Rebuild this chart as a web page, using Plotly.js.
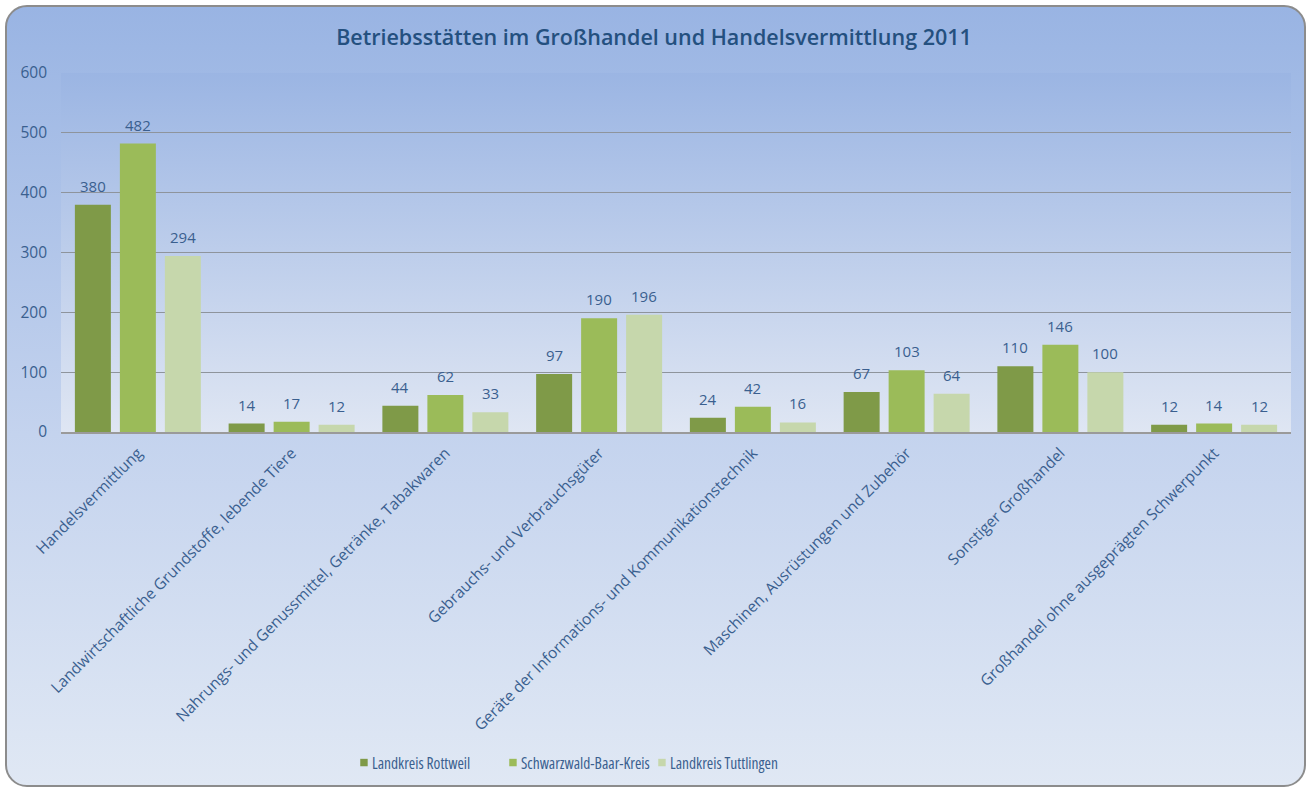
<!DOCTYPE html>
<html>
<head>
<meta charset="utf-8">
<script src="https://cdn.plot.ly/plotly-3.0.1.min.js"></script>
<style>
  html, body { margin: 0; padding: 0; background: #ffffff; width: 1308px; height: 789px; overflow: hidden; }
  #box { position: absolute; left: 5px; top: 5px; width: 1297px; height: 778px;
         border: 2px solid #8c8c8c; border-radius: 22px;
         background: linear-gradient(to bottom, #99b4e3 0px, #c4d3ee 427px, #e0e8f4 778px); }
  #chart { position: absolute; left: 0; top: 0; width: 1308px; height: 789px; }
  .legendtext { font-stretch: 75% !important; }
  #chart .legendpoints path { transform: translate(32px, 0px) scale(0.62) !important; }
</style>
</head>
<body>
<div id="box"></div>
<div id="chart"></div>
<script>
const categories = [
  "Handelsvermittlung",
  "Landwirtschaftliche Grundstoffe, lebende Tiere",
  "Nahrungs- und Genussmittel, Getränke, Tabakwaren",
  "Gebrauchs- und Verbrauchsgüter",
  "Geräte der Informations- und Kommunikationstechnik",
  "Maschinen, Ausrüstungen und Zubehör",
  "Sonstiger Großhandel",
  "Großhandel ohne ausgeprägten Schwerpunkt"
];
const seriesNames = ["Landkreis Rottweil", "Schwarzwald-Baar-Kreis", "Landkreis Tuttlingen"];
const rottweil = [380, 14, 44, 97, 24, 67, 110, 12];
const schwarzwald = [482, 17, 62, 190, 42, 103, 146, 14];
const tuttlingen = [294, 12, 33, 196, 16, 64, 100, 12];
const yTicks = [0, 100, 200, 300, 400, 500, 600];

const colors = ["#7f9a48", "#9bbb59", "#c6d7ac"];
const textColor = "#3a5f8f";
const fontFam = "'Open Sans', 'DejaVu Sans', sans-serif";
const values = [rottweil, schwarzwald, tuttlingen];

const traces = values.map((v, i) => ({
  type: "bar",
  name: seriesNames[i],
  x: categories,
  y: v,
  marker: { color: colors[i], line: { width: 0 } },
  hoverinfo: "skip"
}));

// value labels above bars (offset within group follows the bar slots)
const slotPx = 45;
const annotations = [];
values.forEach((v, i) => {
  v.forEach((val, j) => {
    annotations.push({
      x: categories[j], y: val, xref: "x", yref: "y",
      text: String(val), showarrow: false,
      xanchor: "center", yanchor: "bottom",
      xshift: (i - 1) * slotPx, yshift: 7,
      font: { family: fontFam, size: 15, color: textColor }
    });
  });
});

const gradSvg = '<svg xmlns="http://www.w3.org/2000/svg" width="10" height="100" preserveAspectRatio="none">' +
  '<defs><linearGradient id="g" x1="0" y1="0" x2="0" y2="1">' +
  '<stop offset="0" stop-color="#9bb5e3"/><stop offset="1" stop-color="#dfe6f3"/></linearGradient></defs>' +
  '<rect width="10" height="100" fill="url(#g)"/></svg>';
const gradUri = "data:image/svg+xml;base64," + btoa(gradSvg);

const layout = {
  width: 1308,
  height: 789,
  paper_bgcolor: "rgba(0,0,0,0)",
  plot_bgcolor: "rgba(0,0,0,0)",
  margin: { l: 61, r: 17, t: 73, b: 357 },
  title: {
    text: "Betriebsstätten im Großhandel und Handelsvermittlung 2011",
    font: { family: fontFam, size: 21.5, color: "#24507f", weight: 600 },
    x: 0.5, xanchor: "center", y: 0.953, yanchor: "middle"
  },
  barmode: "group",
  bargap: 0.122,
  bargroupgap: 0.2,
  xaxis: {
    type: "category",
    tickangle: -45,
    tickfont: { family: fontFam, size: 15.5, color: textColor },
    showgrid: false,
    showline: true,
    linecolor: "#9a9a9a",
    linewidth: 2,
    ticks: "",
    ticklabelstandoff: 4,
    fixedrange: true
  },
  yaxis: {
    range: [0, 600],
    tickvals: yTicks,
    ticktext: yTicks.map(String),
    tickfont: { family: fontFam, size: 15.5, color: textColor },
    showgrid: true,
    gridcolor: "#8e949c",
    gridwidth: 1,
    zeroline: false,
    showline: false,
    ticks: "",
    ticklabelstandoff: 13,
    fixedrange: true
  },
  annotations: annotations,
  showlegend: true,
  legend: {
    orientation: "h",
    x: 0.2203, xanchor: "left", xref: "paper",
    y: 0.033, yanchor: "middle", yref: "container",
    font: { family: fontFam, size: 15.5, color: textColor },
    itemwidth: 30,
    entrywidth: 104,
    entrywidthmode: "pixels",
    bgcolor: "rgba(0,0,0,0)"
  },
  images: [{
    source: gradUri,
    xref: "paper", yref: "paper",
    x: 0, y: 1, sizex: 1, sizey: 1,
    xanchor: "left", yanchor: "top",
    sizing: "stretch",
    layer: "below"
  }]
};

Plotly.newPlot("chart", traces, layout, { displayModeBar: false, staticPlot: true });
</script>
</body>
</html>
